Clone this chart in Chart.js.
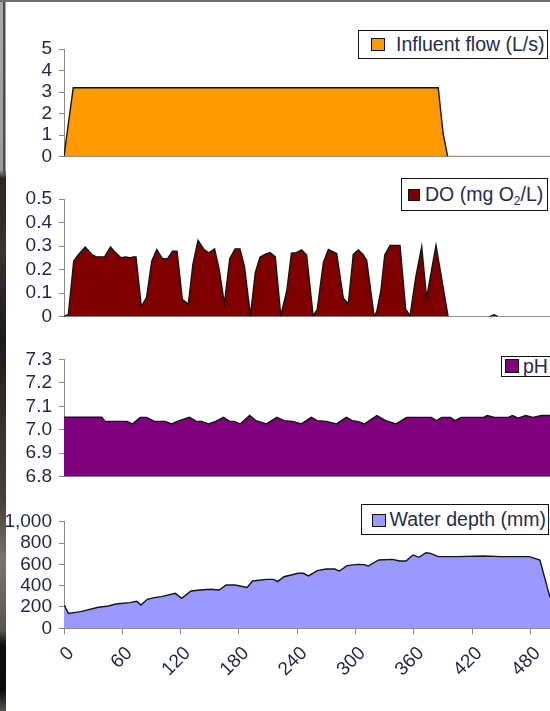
<!DOCTYPE html>
<html>
<head>
<meta charset="utf-8">
<script src="https://cdn.jsdelivr.net/npm/chart.js@4.4.1/dist/chart.umd.min.js"></script>
<style>
  html, body { margin: 0; padding: 0; background: #fff; overflow: hidden; }
  #page { position: relative; width: 550px; height: 711px; overflow: hidden; background: #fff;
          font-family: "Liberation Sans", Arial, sans-serif; }
  canvas { position: absolute; left: 0; }
  .legend { position: absolute; box-sizing: border-box; border: 1px solid #111; background: #fff;
            font-size: 19.5px; color: #1f2a55; white-space: nowrap; overflow: hidden; }
  .legend .sw { position: absolute; box-sizing: border-box; border: 1px solid #111; }
  .legend .tx { position: absolute; line-height: 1; }
  .legend sub { font-size: 12px; vertical-align: -4px; line-height: 0; }
  #edge { position: absolute; left: 0; top: 0; width: 6px; height: 711px; z-index: 5;
          background: linear-gradient(to bottom, #a9a9a9 0px, #9c9c9c 170px, #2b2622 178px, #3a3330 250px,
                      #1d1a18 340px, #3b2f27 420px, #4a403a 500px, #7a736c 560px, #5d5650 630px,
                      #0e0d0c 645px, #0b0a0a 690px, #5a5550 711px); }
  #edgeLine { position: absolute; left: 3px; top: 0; width: 2px; height: 175px; z-index: 6; background: #4d4d4d; }
  #topLine { position: absolute; left: 0; top: 0; width: 550px; height: 2px; z-index: 6; background: #6e6e6e; }
</style>
</head>
<body>
<div id="page">
  <canvas id="flowChart" width="550" height="175" style="top:0px"></canvas>
  <canvas id="doChart" width="550" height="160" style="top:175px"></canvas>
  <canvas id="phChart" width="550" height="160" style="top:335px"></canvas>
  <canvas id="depthChart" width="550" height="216" style="top:495px"></canvas>

  <div class="legend" style="left:358px; top:29.5px; width:190px; height:29px;">
    <span class="sw" style="left:12px; top:7px; width:14px; height:13px; background:#ff9900;"></span>
    <span class="tx" style="left:37px; top:4px;">Influent flow (L/s)</span>
  </div>
  <div class="legend" style="left:401px; top:177.5px; width:147px; height:33px;">
    <span class="sw" style="left:6px; top:10.5px; width:12px; height:12px; background:#800000;"></span>
    <span class="tx" style="left:23px; top:6px;">DO (mg O<sub>2</sub>/L)</span>
  </div>
  <div class="legend" style="left:501px; top:355.5px; width:60px; height:21px;">
    <span class="sw" style="left:3px; top:2.5px; width:14px; height:14px; background:#800080;"></span>
    <span class="tx" style="left:21px; top:0px;">pH</span>
  </div>
  <div class="legend" style="left:360.5px; top:504px; width:188px; height:31px;">
    <span class="sw" style="left:10px; top:9px; width:14px; height:13px; background:#9999ff;"></span>
    <span class="tx" style="left:28px; top:5px;">Water depth (mm)</span>
  </div>

  <div id="edge"></div>
  <div id="edgeLine"></div>
  <div id="topLine"></div>
</div>

<script>
// Time axis (minutes)
const timeTicks = [0, 60, 120, 180, 240, 300, 360, 420, 480];
const timeMax = 500;

// Influent flow (L/s)
const flowTime  = [0, 2.7, 9.5, 385, 390, 394.7, 500];
const flowValue = [0, 0.93, 3.2, 3.2, 1.09, 0, 0];
const flowTicks = [0, 1, 2, 3, 4, 5];
const flowTickLabels = ['0', '1', '2', '3', '4', '5'];

// Dissolved oxygen (mg O2/L)
const doTime = [0, 4.5, 10, 15, 21.8, 28.7, 33.4, 41.7, 47.8, 53.2, 58.6, 63.3, 67.7, 71.2, 74.1,
  79.5, 84.9, 90.3, 95.4, 101.2, 106.6, 111.6, 116.3, 121.7, 127.9, 132.6, 137.9, 144.1, 149.1,
  154.9, 159.7, 165, 170.5, 176, 181, 185.6, 191.8, 196.8, 201.6, 206.6, 212, 217.4, 223,
  229.2, 234, 239.1, 244.5, 249.6, 256.3, 260.5, 266.8, 272, 276.5, 280.5, 287.4, 292.5,
  297.6, 302.8, 307.6, 311.4, 319, 321.7, 326, 330, 335.4, 345.7, 351.5, 356, 362, 368,
  373, 382.7, 395.2, 438, 442.5, 446.5, 500];
const doValue = [0, 0.01, 0.236, 0.264, 0.296, 0.264, 0.254, 0.254, 0.296, 0.271, 0.25, 0.254, 0.25, 0.254, 0.254,
  0.044, 0.081, 0.236, 0.285, 0.246, 0.246, 0.278, 0.278, 0.074, 0.053, 0.222, 0.324, 0.285, 0.271,
  0.288, 0.2, 0.055, 0.246, 0.288, 0.288, 0.215, 0.004, 0.187, 0.252, 0.264, 0.272, 0.254, 0.004,
  0.11, 0.27, 0.272, 0.284, 0.262, 0.004, 0.03, 0.229, 0.285, 0.276, 0.268, 0.078, 0.055,
  0.265, 0.283, 0.264, 0.24, 0.003, 0.02, 0.11, 0.262, 0.303, 0.303, 0.032, 0.004, 0.17, 0.297,
  0.08, 0.303, 0, 0, 0.008, 0, 0];
const doTicks = [0, 0.1, 0.2, 0.3, 0.4, 0.5];
const doTickLabels = ['0', '0.1', '0.2', '0.3', '0.4', '0.5'];

// pH
const phTime = [0, 38.8, 42.3, 64.7, 70.5, 78.5, 85, 92.9, 103.7, 111, 116.3, 129, 136.2, 141.6, 148.8,
  156, 164, 170.5, 175.2, 181.3, 191, 197.4, 208.3, 219, 226.3, 235.3, 244.2, 254.4, 260.5, 269.6,
  280.4, 290.5, 296.7, 302.1, 309.3, 321.9, 330.9, 341.7, 352.5, 377.8, 383.2, 388.6, 397.6, 402.3,
  408.4, 431.8, 435.4, 442.7, 457.1, 461.4, 467.2, 475.1, 482.3, 491.4, 500];
const phValue = [7.054, 7.054, 7.036, 7.036, 7.025, 7.053, 7.053, 7.036, 7.036, 7.025, 7.036, 7.053, 7.036, 7.036, 7.025,
  7.036, 7.053, 7.036, 7.036, 7.025, 7.061, 7.039, 7.025, 7.053, 7.039, 7.036, 7.025, 7.053, 7.039, 7.036,
  7.025, 7.053, 7.039, 7.036, 7.025, 7.061, 7.039, 7.025, 7.053, 7.053, 7.039, 7.053, 7.053, 7.039,
  7.053, 7.053, 7.061, 7.053, 7.053, 7.061, 7.05, 7.061, 7.053, 7.061, 7.061];
const phTicks = [6.8, 6.9, 7.0, 7.1, 7.2, 7.3];
const phTickLabels = ['6.8', '6.9', '7.0', '7.1', '7.2', '7.3'];

// Water depth (mm)
const depthTime = [0, 1, 4.5, 10, 17.2, 35.2, 46, 53.2, 67.7, 74.9, 79.2, 85.7, 92.9, 100.1, 114.5, 121,
  130.8, 139.8, 150.7, 159.7, 166.9, 175.9, 188.4, 193.9, 208.3, 215.5, 219.8, 226.3, 233.6, 240.8,
  246.2, 251.6, 260.6, 269.6, 278.6, 283.3, 291.3, 302.1, 309.3, 312.9, 323.7, 338.1, 345.3, 351.8,
  359, 365.2, 372.4, 377.1, 385, 403.1, 431.9, 449.9, 478.8, 489.6, 500];
const depthValue = [215, 205, 140, 147, 156, 197, 209, 228, 241, 253, 219, 272, 288, 297, 328, 281,
  350, 359, 366, 359, 406, 406, 384, 444, 459, 459, 438, 484, 500, 516,
  516, 491, 541, 556, 556, 537, 588, 600, 597, 584, 641, 647, 631, 631,
  688, 666, 709, 703, 672, 672, 678, 672, 672, 641, 290];
const depthTicks = [0, 200, 400, 600, 800, 1000];
const depthTickLabels = ['0', '200', '400', '600', '800', '1,000'];

const FONT_FAMILY = '"Liberation Sans", Arial, sans-serif';
const LABEL_COLOR = '#1c2650';
const AXIS_COLOR = '#8a8a8a';
const OUTLINE = '#141414';

function points(xs, ys) {
  return xs.map((x, i) => ({ x: x, y: ys[i] }));
}

function makePanel(id, cfg) {
  const baseColor = cfg.baseColor;
  const yMin = cfg.yTicks[0];
  const yMax = cfg.yTicks[cfg.yTicks.length - 1];
  const xScale = cfg.showTime ? {
    type: 'linear', min: 0, max: timeMax,
    afterBuildTicks: s => { s.ticks = timeTicks.map(v => ({ value: v })); },
    afterFit: s => { s.height = cfg.xHeight; s.paddingLeft = 0; s.paddingRight = 0; },
    ticks: {
      callback: (v, i) => String(timeTicks[i]),
      font: { family: FONT_FAMILY, size: 19 }, color: LABEL_COLOR,
      minRotation: 45, maxRotation: 45, padding: 8, labelOffset: 7, autoSkip: false
    },
    grid: { display: true, drawOnChartArea: false, tickLength: 6, color: AXIS_COLOR },
    border: { display: true, color: AXIS_COLOR, width: 1 }
  } : {
    type: 'linear', min: 0, max: timeMax,
    afterFit: s => { s.height = 0; s.paddingLeft = 0; s.paddingRight = 0; },
    ticks: { display: false },
    grid: { display: false },
    border: { display: true, color: AXIS_COLOR, width: 1 }
  };

  return new Chart(document.getElementById(id), {
    type: 'line',
    data: {
      datasets: [{
        data: points(cfg.times, cfg.values),
        fill: 'start',
        backgroundColor: cfg.fill,
        borderColor: OUTLINE,
        borderWidth: 1.4,
        pointRadius: 0,
        tension: 0,
        segment: baseColor ? {
          borderColor: c => (c.p0.parsed.y === yMin && c.p1.parsed.y === yMin) ? baseColor : undefined
        } : undefined
      }]
    },
    options: {
      responsive: false,
      animation: false,
      devicePixelRatio: 1,
      layout: { padding: { top: cfg.padTop, bottom: cfg.padBottom, left: 0, right: 0 } },
      plugins: { legend: { display: false }, tooltip: { enabled: false } },
      scales: {
        x: xScale,
        y: {
          type: 'linear', min: yMin, max: yMax,
          afterFit: s => { s.width = 64; },
          afterBuildTicks: s => { s.ticks = cfg.yTicks.map(v => ({ value: v })); },
          ticks: {
            callback: (v, i) => cfg.yLabels[i],
            font: { family: FONT_FAMILY, size: 19 }, color: LABEL_COLOR, padding: 7,
            autoSkip: false
          },
          grid: { display: true, drawOnChartArea: false, tickLength: 5, color: AXIS_COLOR },
          border: { display: true, color: AXIS_COLOR, width: 1 }
        }
      }
    }
  });
}

makePanel('flowChart', {
  times: flowTime, values: flowValue, fill: '#ff9900', baseColor: '#b9967a',
  yTicks: flowTicks, yLabels: flowTickLabels, padTop: 49, padBottom: 18.5, showTime: false
});
makePanel('doChart', {
  times: doTime, values: doValue, fill: '#800000', baseColor: '#9a9a9a',
  yTicks: doTicks, yLabels: doTickLabels, padTop: 24, padBottom: 17.5, showTime: false
});
makePanel('phChart', {
  times: phTime, values: phValue, fill: '#800080',
  yTicks: phTicks, yLabels: phTickLabels, padTop: 24.5, padBottom: 16.5, showTime: false
});
makePanel('depthChart', {
  times: depthTime, values: depthValue, fill: '#9999ff',
  yTicks: depthTicks, yLabels: depthTickLabels, padTop: 26.7, padBottom: 0, xHeight: 82.7, showTime: true
});
</script>
</body>
</html>
